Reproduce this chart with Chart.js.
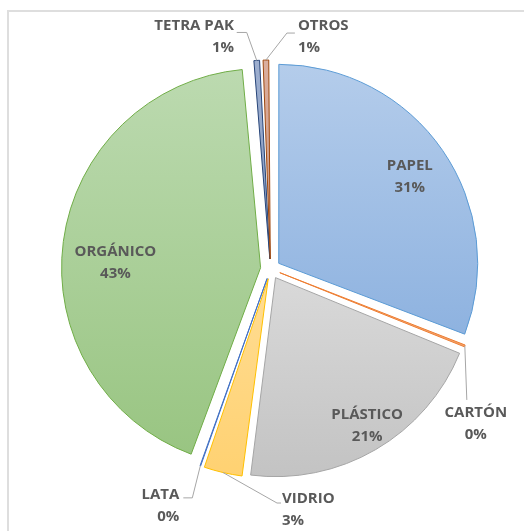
<!DOCTYPE html>
<html>
<head>
<meta charset="utf-8">
<title>Composición de residuos</title>
<script src="https://cdn.jsdelivr.net/npm/chart.js@4.4.1/dist/chart.umd.min.js"></script>
<style>
  html, body { margin: 0; padding: 0; background: #fff; overflow: hidden; }
  #frame { position: absolute; left: 7px; top: 10px; width: 600px; height: 600px;
           border-top: 2px solid #dedede; border-left: 2px solid #dedede; }
  #pie { position: absolute; left: 0; top: 0; }
</style>
</head>
<body>
<div id="frame"></div>
<canvas id="pie" width="524" height="531"></canvas>
<script>
"use strict";

// waste composition, % by weight
var categories = ["PAPEL", "CARTÓN", "PLÁSTICO", "VIDRIO", "LATA", "ORGÁNICO", "TETRA PAK", "OTROS"];
var shares = [30.8, 0.4, 20.8, 3.3, 0.3, 43.0, 0.7, 0.7];

// gradient fill (top, bottom) and outline per slice
var fillTop = ["#b5cdeb", "#f8c09a", "#d8d8d8", "#ffdc92", "#8eaadf", "#bcdab0", "#9fb0d0", "#dbb0a0"];
var fillBottom = ["#8fb3e0", "#f2a06a", "#c2c2c2", "#ffd170", "#6f93d3", "#99c582", "#8599c0", "#cc9580"];
var outline = ["#5b9bd5", "#ed7d31", "#a5a5a5", "#ffc000", "#4472c4", "#70ad47", "#264478", "#9e480e"];

var pieRadius = 199;
var explode = 10;   // px each slice is pulled out

// label placement: inside ones along the slice, outside ones with a leader line
var labelPlaces = [
	{ inside: true, ratio: 0.79, turn: 1 },
	{ elbow: [2, 54], stub: 0, align: "center", text: [9, 12.5] },
	{ inside: true, ratio: 0.875, turn: -1.5 },
	{ elbow: [54, 30.5], stub: 4, align: "left", text: [1, -4] },
	{ elbow: [-8, 32], stub: -9, align: "right", text: [-4, -3.5] },
	{ inside: true, ratio: 0.73, turn: -5.8 },
	{ elbow: [-10, -28], stub: -10, align: "right", text: [-2.7, -6.5] },
	{ elbow: [21, -27], stub: 8, align: "left", text: [3, -7] }
];

var total = shares.reduce(function(a, b) { return a + b; }, 0);

function sliceAngles(i) {
	var before = 0;
	for (var k = 0; k < i; k++) before += shares[k];
	var a0 = -Math.PI / 2 + before / total * 2 * Math.PI;
	var a1 = a0 + shares[i] / total * 2 * Math.PI;
	return [a0, a1];
}

// vertical extent of a slice, used to stretch its gradient
function sliceBand(area, i) {
	var ang = sliceAngles(i);
	var mid = (ang[0] + ang[1]) / 2;
	var cy = (area.top + area.bottom) / 2 + Math.sin(mid) * explode;
	var ys = [cy, cy + Math.sin(ang[0]) * pieRadius, cy + Math.sin(ang[1]) * pieRadius];
	if (ang[0] < Math.PI / 2 && ang[1] > Math.PI / 2) ys.push(cy + pieRadius);
	if (ang[0] <= -Math.PI / 2 + 1e-6 || ang[1] > 3 * Math.PI / 2) ys.push(cy - pieRadius);
	return [Math.min.apply(null, ys), Math.max.apply(null, ys)];
}

function sliceFill(c) {
	var area = c.chart.chartArea;
	if (!area || c.dataIndex === undefined) return fillTop[0];
	var band = sliceBand(area, c.dataIndex);
	var g = c.chart.ctx.createLinearGradient(0, band[0], 0, band[1]);
	g.addColorStop(0, fillTop[c.dataIndex]);
	g.addColorStop(1, fillBottom[c.dataIndex]);
	return g;
}

// Chart.js grows small/large exploded arcs a bit; keep them all at pieRadius
var evenRadius = {
	id: "evenRadius",
	afterDatasetsUpdate: function(chart) {
		chart.getDatasetMeta(0).data.forEach(function(arc) {
			var shift = (arc.options.offset || 0) / 4;
			var fix = 1 - Math.sin(Math.min(Math.PI, arc.circumference || 0));
			arc.outerRadius = pieRadius - shift * fix;
		});
	}
};

var sliceLabels = {
	id: "sliceLabels",
	afterDatasetsDraw: function(chart) {
		var ctx = chart.ctx;
		var meta = chart.getDatasetMeta(0);
		ctx.save();
		ctx.font = "bold 15px 'Open Sans'";
		ctx.textBaseline = "middle";
		meta.data.forEach(function(arc, i) {
			var p = arc.getProps(["x", "y", "startAngle", "endAngle"], true);
			var mid = (p.startAngle + p.endAngle) / 2;
			var cx = p.x + Math.cos(mid) * explode;
			var cy = p.y + Math.sin(mid) * explode;
			var pct = Math.round(shares[i] / total * 100) + "%";
			var place = labelPlaces[i];
			var x, y;
			if (place.inside) {
				var a = mid + place.turn * Math.PI / 180;
				x = cx + Math.cos(a) * pieRadius * place.ratio;
				y = cy + Math.sin(a) * pieRadius * place.ratio;
				ctx.textAlign = "center";
				ctx.fillStyle = "#595959";
				ctx.fillText(categories[i], x, y - 11);
				ctx.fillText(pct, x, y + 11);
				return;
			}
			var ax = cx + Math.cos(mid) * pieRadius;
			var ay = cy + Math.sin(mid) * pieRadius;
			var ex = ax + place.elbow[0], ey = ay + place.elbow[1];
			var fx = ex + place.stub;
			ctx.strokeStyle = "#a6a6a6";
			ctx.lineWidth = 1;
			ctx.beginPath();
			ctx.moveTo(ax, ay);
			ctx.lineTo(ex, ey);
			ctx.lineTo(fx, ey);
			ctx.stroke();
			x = fx + place.text[0];
			y = ey + place.text[1];
			ctx.textAlign = place.align;
			ctx.fillStyle = "#595959";
			ctx.fillText(categories[i], x, y);
			ctx.fillText(pct, x, y + 22);
		});
		ctx.restore();
	}
};

new Chart(document.getElementById("pie"), {
	type: "pie",
	data: {
		labels: categories,
		datasets: [{
			data: shares,
			backgroundColor: sliceFill,
			borderColor: outline,
			borderWidth: 1,
			offset: explode * 4
		}]
	},
	options: {
		responsive: false,
		animation: false,
		radius: pieRadius,
		layout: { padding: { left: 17, right: 0, top: 7, bottom: 0 } },
		plugins: {
			legend: { display: false },
			tooltip: { enabled: false }
		}
	},
	plugins: [evenRadius, sliceLabels]
});
</script>
</body>
</html>
